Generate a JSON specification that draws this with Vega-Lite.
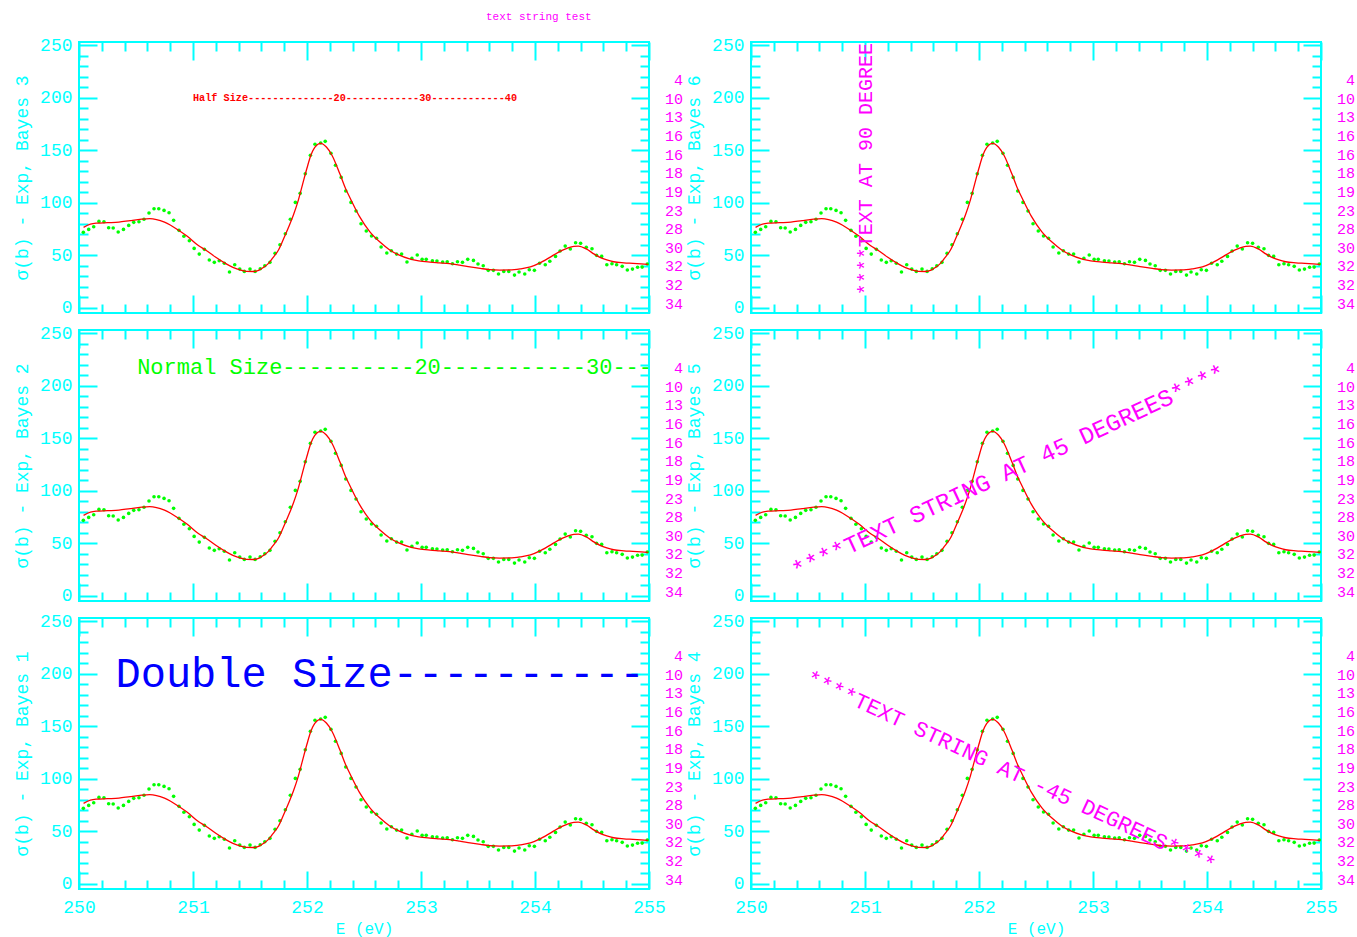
{
"$schema": "https://vega.github.io/schema/vega-lite/v6.json",
"background": "white",
"padding": {"left": 11, "top": 11, "right": 0, "bottom": 0},
"title": {"text": "text string test", "anchor": "start", "frame": "group", "dx": 407, "fontSize": 11, "font": "Liberation Mono", "fontWeight": "normal", "color": "#ff00ff", "offset": 13},
"config": {
  "view": {"stroke": "#00ffff", "strokeWidth": 2},
  "axis": {"domain": false, "grid": false, "tickColor": "#00ffff", "tickWidth": 2, "labelColor": "#00ffff", "labelFont": "Liberation Mono", "labelFontSize": 18, "labelOverlap": false, "labelFlush": false, "titleColor": "#00ffff", "titleFont": "Liberation Mono", "titleFontSize": 18, "titleFontWeight": "normal"},
  "text": {"font": "Liberation Mono"}
},
"datasets": {
  "pts": [
    {"E":250.038,"sigma":71.8},{"E":250.085,"sigma":74.6},{"E":250.129,"sigma":77.1},{"E":250.175,"sigma":82.2},{"E":250.219,"sigma":81.9},
    {"E":250.26,"sigma":76.2},{"E":250.30,"sigma":75.9},{"E":250.344,"sigma":72.1},{"E":250.39,"sigma":74.6},{"E":250.436,"sigma":78.4},
    {"E":250.48,"sigma":81.3},{"E":250.526,"sigma":81.9},{"E":250.57,"sigma":84.2},{"E":250.614,"sigma":90.2},{"E":250.658,"sigma":94.3},
    {"E":250.70,"sigma":94.3},{"E":250.746,"sigma":92.7},{"E":250.79,"sigma":90.5},{"E":250.83,"sigma":83.2},{"E":250.877,"sigma":73.7},
    {"E":250.92,"sigma":68.0},{"E":250.968,"sigma":63.8},{"E":251.01,"sigma":56.5},{"E":251.055,"sigma":51.1},{"E":251.10,"sigma":55.6},
    {"E":251.143,"sigma":45.4},{"E":251.187,"sigma":43.2},{"E":251.23,"sigma":44.7},{"E":251.275,"sigma":42.3},{"E":251.32,"sigma":34.0},
    {"E":251.366,"sigma":40.9},{"E":251.41,"sigma":36.8},{"E":251.45,"sigma":34.6},{"E":251.50,"sigma":36.8},{"E":251.545,"sigma":34.6},
    {"E":251.59,"sigma":37.1},{"E":251.63,"sigma":40.0},{"E":251.675,"sigma":43.2},{"E":251.72,"sigma":51.8},{"E":251.763,"sigma":60.0},
    {"E":251.81,"sigma":70.5},{"E":251.854,"sigma":84.2},{"E":251.898,"sigma":100.3},{"E":251.94,"sigma":108.9},{"E":251.985,"sigma":127.6},
    {"E":252.03,"sigma":145.1},{"E":252.07,"sigma":155.6},{"E":252.12,"sigma":156.8},{"E":252.16,"sigma":158.4},{"E":252.21,"sigma":147.0},
    {"E":252.25,"sigma":135.6},{"E":252.30,"sigma":124.1},{"E":252.34,"sigma":111.1},{"E":252.386,"sigma":100.3},{"E":252.43,"sigma":92.1},
    {"E":252.474,"sigma":80.0},{"E":252.52,"sigma":73.0},{"E":252.566,"sigma":68.3},{"E":252.61,"sigma":66.1},{"E":252.65,"sigma":57.8},
    {"E":252.70,"sigma":52.1},{"E":252.74,"sigma":54.3},{"E":252.786,"sigma":51.1},{"E":252.83,"sigma":51.1},{"E":252.877,"sigma":43.5},
    {"E":252.92,"sigma":47.0},{"E":252.967,"sigma":50.2},{"E":253.01,"sigma":46.1},{"E":253.046,"sigma":46.1},{"E":253.10,"sigma":44.7},
    {"E":253.14,"sigma":44.5},{"E":253.19,"sigma":43.5},{"E":253.23,"sigma":43.8},{"E":253.276,"sigma":41.9},{"E":253.32,"sigma":43.8},
    {"E":253.364,"sigma":43.2},{"E":253.41,"sigma":46.1},{"E":253.46,"sigma":45.1},{"E":253.50,"sigma":41.6},{"E":253.546,"sigma":40.0},
    {"E":253.59,"sigma":35.6},{"E":253.635,"sigma":35.6},{"E":253.68,"sigma":32.1},{"E":253.726,"sigma":34.6},{"E":253.77,"sigma":34.6},
    {"E":253.82,"sigma":31.1},{"E":253.86,"sigma":34.0},{"E":253.91,"sigma":32.1},{"E":253.95,"sigma":36.2},{"E":253.995,"sigma":35.6},
    {"E":254.04,"sigma":42.3},{"E":254.09,"sigma":40.9},{"E":254.13,"sigma":44.2},{"E":254.18,"sigma":48.9},{"E":254.22,"sigma":54.0},
    {"E":254.265,"sigma":58.7},{"E":254.31,"sigma":55.9},{"E":254.356,"sigma":61.9},{"E":254.40,"sigma":61.3},{"E":254.45,"sigma":57.5},
    {"E":254.50,"sigma":56.2},{"E":254.54,"sigma":49.9},{"E":254.585,"sigma":48.9},{"E":254.63,"sigma":40.9},{"E":254.675,"sigma":41.9},
    {"E":254.716,"sigma":40.9},{"E":254.765,"sigma":39.4},{"E":254.81,"sigma":35.9},{"E":254.855,"sigma":36.8},{"E":254.90,"sigma":38.5},
    {"E":254.94,"sigma":38.7},{"E":254.985,"sigma":41.6}
  ],
  "fit": [
    {"E":250.04,"sigma":76.5},{"E":250.10,"sigma":79.5},{"E":250.15,"sigma":80.5},{"E":250.25,"sigma":81.0},{"E":250.35,"sigma":81.5},
    {"E":250.45,"sigma":83.0},{"E":250.55,"sigma":84.3},{"E":250.62,"sigma":84.8},{"E":250.68,"sigma":84.0},{"E":250.75,"sigma":81.5},
    {"E":250.80,"sigma":78.8},{"E":250.87,"sigma":74.0},{"E":250.95,"sigma":68.0},{"E":251.05,"sigma":59.0},{"E":251.11,"sigma":55.0},
    {"E":251.20,"sigma":48.0},{"E":251.28,"sigma":42.5},{"E":251.35,"sigma":38.5},{"E":251.42,"sigma":35.8},{"E":251.47,"sigma":34.6},
    {"E":251.53,"sigma":34.5},{"E":251.58,"sigma":35.8},{"E":251.62,"sigma":38.5},{"E":251.66,"sigma":42.0},{"E":251.70,"sigma":47.5},
    {"E":251.75,"sigma":55.0},{"E":251.79,"sigma":64.5},{"E":251.84,"sigma":77.0},{"E":251.88,"sigma":88.0},{"E":251.92,"sigma":101.0},
    {"E":251.96,"sigma":117.0},{"E":252.00,"sigma":133.0},{"E":252.03,"sigma":144.0},{"E":252.07,"sigma":153.0},{"E":252.12,"sigma":156.5},
    {"E":252.17,"sigma":153.0},{"E":252.22,"sigma":145.0},{"E":252.29,"sigma":127.0},{"E":252.34,"sigma":113.0},{"E":252.38,"sigma":104.0},
    {"E":252.46,"sigma":87.0},{"E":252.55,"sigma":72.5},{"E":252.64,"sigma":62.5},{"E":252.72,"sigma":55.5},{"E":252.80,"sigma":50.5},
    {"E":252.90,"sigma":46.5},{"E":252.98,"sigma":44.7},{"E":253.08,"sigma":43.5},{"E":253.16,"sigma":42.8},{"E":253.25,"sigma":42.0},
    {"E":253.34,"sigma":40.6},{"E":253.43,"sigma":39.0},{"E":253.52,"sigma":37.5},{"E":253.60,"sigma":36.3},{"E":253.69,"sigma":35.9},
    {"E":253.78,"sigma":36.0},{"E":253.87,"sigma":37.0},{"E":253.96,"sigma":38.8},{"E":254.03,"sigma":42.0},{"E":254.13,"sigma":48.0},
    {"E":254.20,"sigma":52.5},{"E":254.28,"sigma":56.5},{"E":254.34,"sigma":58.5},{"E":254.38,"sigma":58.7},{"E":254.45,"sigma":56.0},
    {"E":254.52,"sigma":51.0},{"E":254.57,"sigma":48.0},{"E":254.63,"sigma":45.5},{"E":254.69,"sigma":43.8},{"E":254.78,"sigma":42.8},
    {"E":254.86,"sigma":42.3},{"E":254.93,"sigma":41.8},{"E":254.99,"sigma":41.3}
  ],
  "rlab": [
    {"pos":216.7,"lab":"4"},{"pos":199.0,"lab":"10"},{"pos":181.2,"lab":"13"},{"pos":163.5,"lab":"16"},{"pos":145.7,"lab":"16"},
    {"pos":128.0,"lab":"18"},{"pos":110.3,"lab":"19"},{"pos":92.5,"lab":"23"},{"pos":74.8,"lab":"28"},{"pos":57.0,"lab":"30"},
    {"pos":39.3,"lab":"32"},{"pos":21.6,"lab":"32"},{"pos":3.8,"lab":"34"}
  ]
},
"columns": 2,
"bounds": "flush",
"spacing": {"row": 17, "column": 102},
"concat": [
 {"width": 570, "height": 271,
  "resolve": {"axis": {"x": "independent", "y": "independent"}},
  "layer": [
   {"data": {"name": "pts"}, "mark": {"type": "circle", "color": "#00ff00", "size": 13, "opacity": 1},
    "encoding": {
     "x": {"field": "E", "type": "quantitative", "scale": {"domain": [250, 255], "nice": false, "zero": false},
       "axis": {"orient": "bottom", "values": [250,250.2,250.4,250.6,250.8,251,251.2,251.4,251.6,251.8,252,252.2,252.4,252.6,252.8,253,253.2,253.4,253.6,253.8,254,254.2,254.4,254.6,254.8,255], "tickSize": {"condition": {"test": "abs(datum.value - round(datum.value)) < 0.01", "value": -18}, "value": -9}, "labels": false, "title": null}},
     "y": {"field": "sigma", "type": "quantitative", "scale": {"domain": [-5, 253], "nice": false, "zero": false},
       "axis": {"orient": "left", "values": [0,10,20,30,40,50,60,70,80,90,100,110,120,130,140,150,160,170,180,190,200,210,220,230,240,250], "tickSize": {"condition": {"test": "datum.value % 50 === 0", "value": -18}, "value": -9}, "labelExpr": "datum.value % 50 === 0 ? datum.label : ''", "labelPadding": 25, "title": "σ(b) - Exp, Bayes 3", "titleX": -57, "titleBaseline": "middle"}}
    }},
   {"data": {"name": "fit"}, "mark": {"type": "line", "color": "#ff0000", "strokeWidth": 1.3, "interpolate": "monotone"},
    "encoding": {
     "x": {"field": "E", "type": "quantitative", "axis": {"orient": "top", "values": [250,250.2,250.4,250.6,250.8,251,251.2,251.4,251.6,251.8,252,252.2,252.4,252.6,252.8,253,253.2,253.4,253.6,253.8,254,254.2,254.4,254.6,254.8,255], "tickSize": {"condition": {"test": "abs(datum.value - round(datum.value)) < 0.01", "value": -18}, "value": -9}, "labels": false, "title": null}},
     "y": {"field": "sigma", "type": "quantitative", "axis": {"orient": "right", "values": [0,10,20,30,40,50,60,70,80,90,100,110,120,130,140,150,160,170,180,190,200,210,220,230,240,250], "tickSize": {"condition": {"test": "datum.value % 50 === 0", "value": -18}, "value": -9}, "labels": false, "title": null}}
    }},
   {"data": {"values": [{"E": 251.0, "sigma": 200, "txt": "Half Size--------------20------------30------------40"}]},
    "mark": {"type": "text", "color": "#ff0000", "fontSize": 10.2, "fontWeight": "bold", "align": "left", "baseline": "middle", "clip": true},
    "encoding": {"x": {"field": "E", "type": "quantitative", "axis": null}, "y": {"field": "sigma", "type": "quantitative", "axis": null}, "text": {"field": "txt"}}},
   {"data": {"name": "rlab"}, "mark": {"type": "text", "color": "#ff00ff", "fontSize": 15, "align": "right", "baseline": "middle", "dx": 34},
    "encoding": {"x": {"datum": 255, "type": "quantitative", "axis": null}, "y": {"field": "pos", "type": "quantitative", "axis": null}, "text": {"field": "lab"}}}
  ]},
 {"width": 570, "height": 271,
  "resolve": {"axis": {"x": "independent", "y": "independent"}},
  "layer": [
   {"data": {"name": "pts"}, "mark": {"type": "circle", "color": "#00ff00", "size": 13, "opacity": 1},
    "encoding": {
     "x": {"field": "E", "type": "quantitative", "scale": {"domain": [250, 255], "nice": false, "zero": false},
       "axis": {"orient": "bottom", "values": [250,250.2,250.4,250.6,250.8,251,251.2,251.4,251.6,251.8,252,252.2,252.4,252.6,252.8,253,253.2,253.4,253.6,253.8,254,254.2,254.4,254.6,254.8,255], "tickSize": {"condition": {"test": "abs(datum.value - round(datum.value)) < 0.01", "value": -18}, "value": -9}, "labels": false, "title": null}},
     "y": {"field": "sigma", "type": "quantitative", "scale": {"domain": [-5, 253], "nice": false, "zero": false},
       "axis": {"orient": "left", "values": [0,10,20,30,40,50,60,70,80,90,100,110,120,130,140,150,160,170,180,190,200,210,220,230,240,250], "tickSize": {"condition": {"test": "datum.value % 50 === 0", "value": -18}, "value": -9}, "labelExpr": "datum.value % 50 === 0 ? datum.label : ''", "labelPadding": 25, "title": "σ(b) - Exp, Bayes 6", "titleX": -57, "titleBaseline": "middle"}}
    }},
   {"data": {"name": "fit"}, "mark": {"type": "line", "color": "#ff0000", "strokeWidth": 1.3, "interpolate": "monotone"},
    "encoding": {
     "x": {"field": "E", "type": "quantitative", "axis": {"orient": "top", "values": [250,250.2,250.4,250.6,250.8,251,251.2,251.4,251.6,251.8,252,252.2,252.4,252.6,252.8,253,253.2,253.4,253.6,253.8,254,254.2,254.4,254.6,254.8,255], "tickSize": {"condition": {"test": "abs(datum.value - round(datum.value)) < 0.01", "value": -18}, "value": -9}, "labels": false, "title": null}},
     "y": {"field": "sigma", "type": "quantitative", "axis": {"orient": "right", "values": [0,10,20,30,40,50,60,70,80,90,100,110,120,130,140,150,160,170,180,190,200,210,220,230,240,250], "tickSize": {"condition": {"test": "datum.value % 50 === 0", "value": -18}, "value": -9}, "labels": false, "title": null}}
    }},
   {"data": {"values": [{"E": 251.06, "sigma": 12, "txt": "****TEXT AT 90 DEGREES****"}]},
    "mark": {"type": "text", "color": "#ff00ff", "fontSize": 20, "angle": 270, "align": "left", "baseline": "alphabetic", "clip": true},
    "encoding": {"x": {"field": "E", "type": "quantitative", "axis": null}, "y": {"field": "sigma", "type": "quantitative", "axis": null}, "text": {"field": "txt"}}},
   {"data": {"name": "rlab"}, "mark": {"type": "text", "color": "#ff00ff", "fontSize": 15, "align": "right", "baseline": "middle", "dx": 34},
    "encoding": {"x": {"datum": 255, "type": "quantitative", "axis": null}, "y": {"field": "pos", "type": "quantitative", "axis": null}, "text": {"field": "lab"}}}
  ]},
 {"width": 570, "height": 271,
  "resolve": {"axis": {"x": "independent", "y": "independent"}},
  "layer": [
   {"data": {"name": "pts"}, "mark": {"type": "circle", "color": "#00ff00", "size": 13, "opacity": 1},
    "encoding": {
     "x": {"field": "E", "type": "quantitative", "scale": {"domain": [250, 255], "nice": false, "zero": false},
       "axis": {"orient": "bottom", "values": [250,250.2,250.4,250.6,250.8,251,251.2,251.4,251.6,251.8,252,252.2,252.4,252.6,252.8,253,253.2,253.4,253.6,253.8,254,254.2,254.4,254.6,254.8,255], "tickSize": {"condition": {"test": "abs(datum.value - round(datum.value)) < 0.01", "value": -18}, "value": -9}, "labels": false, "title": null}},
     "y": {"field": "sigma", "type": "quantitative", "scale": {"domain": [-5, 253], "nice": false, "zero": false},
       "axis": {"orient": "left", "values": [0,10,20,30,40,50,60,70,80,90,100,110,120,130,140,150,160,170,180,190,200,210,220,230,240,250], "tickSize": {"condition": {"test": "datum.value % 50 === 0", "value": -18}, "value": -9}, "labelExpr": "datum.value % 50 === 0 ? datum.label : ''", "labelPadding": 25, "title": "σ(b) - Exp, Bayes 2", "titleX": -57, "titleBaseline": "middle"}}
    }},
   {"data": {"name": "fit"}, "mark": {"type": "line", "color": "#ff0000", "strokeWidth": 1.3, "interpolate": "monotone"},
    "encoding": {
     "x": {"field": "E", "type": "quantitative", "axis": {"orient": "top", "values": [250,250.2,250.4,250.6,250.8,251,251.2,251.4,251.6,251.8,252,252.2,252.4,252.6,252.8,253,253.2,253.4,253.6,253.8,254,254.2,254.4,254.6,254.8,255], "tickSize": {"condition": {"test": "abs(datum.value - round(datum.value)) < 0.01", "value": -18}, "value": -9}, "labels": false, "title": null}},
     "y": {"field": "sigma", "type": "quantitative", "axis": {"orient": "right", "values": [0,10,20,30,40,50,60,70,80,90,100,110,120,130,140,150,160,170,180,190,200,210,220,230,240,250], "tickSize": {"condition": {"test": "datum.value % 50 === 0", "value": -18}, "value": -9}, "labels": false, "title": null}}
    }},
   {"data": {"values": [{"E": 250.51, "sigma": 218, "txt": "Normal Size----------20-----------30-----------40"}]},
    "mark": {"type": "text", "color": "#00ff00", "fontSize": 22, "align": "left", "baseline": "middle", "clip": true},
    "encoding": {"x": {"field": "E", "type": "quantitative", "axis": null}, "y": {"field": "sigma", "type": "quantitative", "axis": null}, "text": {"field": "txt"}}},
   {"data": {"name": "rlab"}, "mark": {"type": "text", "color": "#ff00ff", "fontSize": 15, "align": "right", "baseline": "middle", "dx": 34},
    "encoding": {"x": {"datum": 255, "type": "quantitative", "axis": null}, "y": {"field": "pos", "type": "quantitative", "axis": null}, "text": {"field": "lab"}}}
  ]},
 {"width": 570, "height": 271,
  "resolve": {"axis": {"x": "independent", "y": "independent"}},
  "layer": [
   {"data": {"name": "pts"}, "mark": {"type": "circle", "color": "#00ff00", "size": 13, "opacity": 1},
    "encoding": {
     "x": {"field": "E", "type": "quantitative", "scale": {"domain": [250, 255], "nice": false, "zero": false},
       "axis": {"orient": "bottom", "values": [250,250.2,250.4,250.6,250.8,251,251.2,251.4,251.6,251.8,252,252.2,252.4,252.6,252.8,253,253.2,253.4,253.6,253.8,254,254.2,254.4,254.6,254.8,255], "tickSize": {"condition": {"test": "abs(datum.value - round(datum.value)) < 0.01", "value": -18}, "value": -9}, "labels": false, "title": null}},
     "y": {"field": "sigma", "type": "quantitative", "scale": {"domain": [-5, 253], "nice": false, "zero": false},
       "axis": {"orient": "left", "values": [0,10,20,30,40,50,60,70,80,90,100,110,120,130,140,150,160,170,180,190,200,210,220,230,240,250], "tickSize": {"condition": {"test": "datum.value % 50 === 0", "value": -18}, "value": -9}, "labelExpr": "datum.value % 50 === 0 ? datum.label : ''", "labelPadding": 25, "title": "σ(b) - Exp, Bayes 5", "titleX": -57, "titleBaseline": "middle"}}
    }},
   {"data": {"name": "fit"}, "mark": {"type": "line", "color": "#ff0000", "strokeWidth": 1.3, "interpolate": "monotone"},
    "encoding": {
     "x": {"field": "E", "type": "quantitative", "axis": {"orient": "top", "values": [250,250.2,250.4,250.6,250.8,251,251.2,251.4,251.6,251.8,252,252.2,252.4,252.6,252.8,253,253.2,253.4,253.6,253.8,254,254.2,254.4,254.6,254.8,255], "tickSize": {"condition": {"test": "abs(datum.value - round(datum.value)) < 0.01", "value": -18}, "value": -9}, "labels": false, "title": null}},
     "y": {"field": "sigma", "type": "quantitative", "axis": {"orient": "right", "values": [0,10,20,30,40,50,60,70,80,90,100,110,120,130,140,150,160,170,180,190,200,210,220,230,240,250], "tickSize": {"condition": {"test": "datum.value % 50 === 0", "value": -18}, "value": -9}, "labels": false, "title": null}}
    }},
   {"data": {"values": [{"E": 250.4, "sigma": 16, "txt": "****TEXT STRING AT 45 DEGREES****"}]},
    "mark": {"type": "text", "color": "#ff00ff", "fontSize": 24, "angle": 335, "align": "left", "baseline": "alphabetic", "clip": true},
    "encoding": {"x": {"field": "E", "type": "quantitative", "axis": null}, "y": {"field": "sigma", "type": "quantitative", "axis": null}, "text": {"field": "txt"}}},
   {"data": {"name": "rlab"}, "mark": {"type": "text", "color": "#ff00ff", "fontSize": 15, "align": "right", "baseline": "middle", "dx": 34},
    "encoding": {"x": {"datum": 255, "type": "quantitative", "axis": null}, "y": {"field": "pos", "type": "quantitative", "axis": null}, "text": {"field": "lab"}}}
  ]},
 {"width": 570, "height": 271,
  "resolve": {"axis": {"x": "independent", "y": "independent"}},
  "layer": [
   {"data": {"name": "pts"}, "mark": {"type": "circle", "color": "#00ff00", "size": 13, "opacity": 1},
    "encoding": {
     "x": {"field": "E", "type": "quantitative", "scale": {"domain": [250, 255], "nice": false, "zero": false},
       "axis": {"orient": "bottom", "values": [250,250.2,250.4,250.6,250.8,251,251.2,251.4,251.6,251.8,252,252.2,252.4,252.6,252.8,253,253.2,253.4,253.6,253.8,254,254.2,254.4,254.6,254.8,255], "tickSize": {"condition": {"test": "abs(datum.value - round(datum.value)) < 0.01", "value": -18}, "value": -9}, "labelExpr": "abs(datum.value - round(datum.value)) < 0.01 ? format(datum.value, 'd') : ''", "labelPadding": 27, "title": "E (eV)", "titleFontSize": 16, "titleY": 39, "titleBaseline": "middle"}},
     "y": {"field": "sigma", "type": "quantitative", "scale": {"domain": [-5, 253], "nice": false, "zero": false},
       "axis": {"orient": "left", "values": [0,10,20,30,40,50,60,70,80,90,100,110,120,130,140,150,160,170,180,190,200,210,220,230,240,250], "tickSize": {"condition": {"test": "datum.value % 50 === 0", "value": -18}, "value": -9}, "labelExpr": "datum.value % 50 === 0 ? datum.label : ''", "labelPadding": 25, "title": "σ(b) - Exp, Bayes 1", "titleX": -57, "titleBaseline": "middle"}}
    }},
   {"data": {"name": "fit"}, "mark": {"type": "line", "color": "#ff0000", "strokeWidth": 1.3, "interpolate": "monotone"},
    "encoding": {
     "x": {"field": "E", "type": "quantitative", "axis": {"orient": "top", "values": [250,250.2,250.4,250.6,250.8,251,251.2,251.4,251.6,251.8,252,252.2,252.4,252.6,252.8,253,253.2,253.4,253.6,253.8,254,254.2,254.4,254.6,254.8,255], "tickSize": {"condition": {"test": "abs(datum.value - round(datum.value)) < 0.01", "value": -18}, "value": -9}, "labels": false, "title": null}},
     "y": {"field": "sigma", "type": "quantitative", "axis": {"orient": "right", "values": [0,10,20,30,40,50,60,70,80,90,100,110,120,130,140,150,160,170,180,190,200,210,220,230,240,250], "tickSize": {"condition": {"test": "datum.value % 50 === 0", "value": -18}, "value": -9}, "labels": false, "title": null}}
    }},
   {"data": {"values": [{"E": 250.32, "sigma": 200, "txt": "Double Size------------"}]},
    "mark": {"type": "text", "color": "#0000ff", "fontSize": 42, "align": "left", "baseline": "middle", "clip": true},
    "encoding": {"x": {"field": "E", "type": "quantitative", "axis": null}, "y": {"field": "sigma", "type": "quantitative", "axis": null}, "text": {"field": "txt"}}},
   {"data": {"name": "rlab"}, "mark": {"type": "text", "color": "#ff00ff", "fontSize": 15, "align": "right", "baseline": "middle", "dx": 34},
    "encoding": {"x": {"datum": 255, "type": "quantitative", "axis": null}, "y": {"field": "pos", "type": "quantitative", "axis": null}, "text": {"field": "lab"}}}
  ]},
 {"width": 570, "height": 271,
  "resolve": {"axis": {"x": "independent", "y": "independent"}},
  "layer": [
   {"data": {"name": "pts"}, "mark": {"type": "circle", "color": "#00ff00", "size": 13, "opacity": 1},
    "encoding": {
     "x": {"field": "E", "type": "quantitative", "scale": {"domain": [250, 255], "nice": false, "zero": false},
       "axis": {"orient": "bottom", "values": [250,250.2,250.4,250.6,250.8,251,251.2,251.4,251.6,251.8,252,252.2,252.4,252.6,252.8,253,253.2,253.4,253.6,253.8,254,254.2,254.4,254.6,254.8,255], "tickSize": {"condition": {"test": "abs(datum.value - round(datum.value)) < 0.01", "value": -18}, "value": -9}, "labelExpr": "abs(datum.value - round(datum.value)) < 0.01 ? format(datum.value, 'd') : ''", "labelPadding": 27, "title": "E (eV)", "titleFontSize": 16, "titleY": 39, "titleBaseline": "middle"}},
     "y": {"field": "sigma", "type": "quantitative", "scale": {"domain": [-5, 253], "nice": false, "zero": false},
       "axis": {"orient": "left", "values": [0,10,20,30,40,50,60,70,80,90,100,110,120,130,140,150,160,170,180,190,200,210,220,230,240,250], "tickSize": {"condition": {"test": "datum.value % 50 === 0", "value": -18}, "value": -9}, "labelExpr": "datum.value % 50 === 0 ? datum.label : ''", "labelPadding": 25, "title": "σ(b) - Exp, Bayes 4", "titleX": -57, "titleBaseline": "middle"}}
    }},
   {"data": {"name": "fit"}, "mark": {"type": "line", "color": "#ff0000", "strokeWidth": 1.3, "interpolate": "monotone"},
    "encoding": {
     "x": {"field": "E", "type": "quantitative", "axis": {"orient": "top", "values": [250,250.2,250.4,250.6,250.8,251,251.2,251.4,251.6,251.8,252,252.2,252.4,252.6,252.8,253,253.2,253.4,253.6,253.8,254,254.2,254.4,254.6,254.8,255], "tickSize": {"condition": {"test": "abs(datum.value - round(datum.value)) < 0.01", "value": -18}, "value": -9}, "labels": false, "title": null}},
     "y": {"field": "sigma", "type": "quantitative", "axis": {"orient": "right", "values": [0,10,20,30,40,50,60,70,80,90,100,110,120,130,140,150,160,170,180,190,200,210,220,230,240,250], "tickSize": {"condition": {"test": "datum.value % 50 === 0", "value": -18}, "value": -9}, "labels": false, "title": null}}
    }},
   {"data": {"values": [{"E": 250.47, "sigma": 191, "txt": "****TEXT STRING AT -45 DEGREES****"}]},
    "mark": {"type": "text", "color": "#ff00ff", "fontSize": 22, "angle": 25, "align": "left", "baseline": "alphabetic", "clip": true},
    "encoding": {"x": {"field": "E", "type": "quantitative", "axis": null}, "y": {"field": "sigma", "type": "quantitative", "axis": null}, "text": {"field": "txt"}}},
   {"data": {"name": "rlab"}, "mark": {"type": "text", "color": "#ff00ff", "fontSize": 15, "align": "right", "baseline": "middle", "dx": 34},
    "encoding": {"x": {"datum": 255, "type": "quantitative", "axis": null}, "y": {"field": "pos", "type": "quantitative", "axis": null}, "text": {"field": "lab"}}}
  ]}
]
}
